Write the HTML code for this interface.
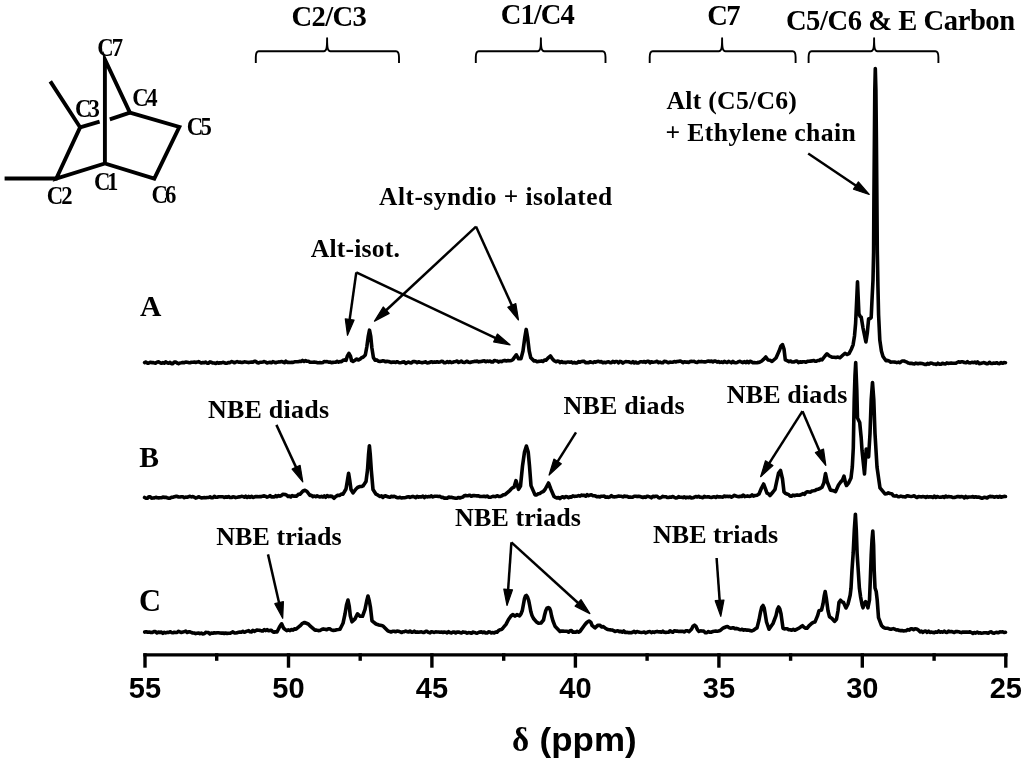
<!DOCTYPE html>
<html><head><meta charset="utf-8"><style>
html,body{margin:0;padding:0;background:#fff;width:1024px;height:765px;overflow:hidden}
svg{display:block;will-change:transform}
.t{font-family:"Liberation Serif",serif;font-weight:bold;fill:#000}
.ml{font-family:"Liberation Serif",serif;font-weight:bold;fill:#000;font-size:23px;letter-spacing:-3.5px}
.tick{font-family:"Liberation Sans",sans-serif;font-weight:bold;font-size:29px;fill:#000}
.xl{font-family:"Liberation Sans",sans-serif;font-weight:bold;font-size:34px;fill:#000}
</style></head><body>
<svg width="1024" height="765" viewBox="0 0 1024 765">
<polyline points="50.3,81.4 80.1,127.3 56.3,178.5 104.9,163.5 154.3,178.7 179.3,127.0 129.9,112.7 104.9,59.5 104.9,163.5" fill="none" stroke="#000" stroke-width="3.9" stroke-linejoin="miter" stroke-miterlimit="10" stroke-linecap="butt"/>
<polyline points="4.6,178.5 57.5,178.5" fill="none" stroke="#000" stroke-width="3.9" stroke-linejoin="miter" stroke-miterlimit="10" stroke-linecap="butt"/>
<polyline points="80.1,127.3 99.6,121.6" fill="none" stroke="#000" stroke-width="3.9" stroke-linejoin="miter" stroke-miterlimit="10" stroke-linecap="butt"/>
<polyline points="109.8,119.3 129.9,112.7" fill="none" stroke="#000" stroke-width="3.9" stroke-linejoin="miter" stroke-miterlimit="10" stroke-linecap="butt"/>
<path d="M255.8,63.0 L255.8,57.2 C255.8,54.2 256.6,51.2 258.8,51.2 L323.8,51.2 C326.3,51.2 327.1,49.2 327.1,38.2 C327.1,49.2 327.9,51.2 330.4,51.2 L396.0,51.2 C398.2,51.2 399.0,54.2 399.0,57.2 L399.0,63.0" fill="none" stroke="#000" stroke-width="1.9" stroke-linejoin="round"/>
<path d="M475.8,63.0 L475.8,57.2 C475.8,54.2 476.6,51.2 478.8,51.2 L537.6,51.2 C540.1,51.2 540.9,49.2 540.9,38.2 C540.9,49.2 541.7,51.2 544.2,51.2 L602.5,51.2 C604.7,51.2 605.5,54.2 605.5,57.2 L605.5,63.0" fill="none" stroke="#000" stroke-width="1.9" stroke-linejoin="round"/>
<path d="M649.7,63.0 L649.7,57.2 C649.7,54.2 650.5,51.2 652.7,51.2 L718.8,51.2 C721.3,51.2 722.1,49.2 722.1,38.2 C722.1,49.2 722.9,51.2 725.4,51.2 L792.6,51.2 C794.8,51.2 795.6,54.2 795.6,57.2 L795.6,63.0" fill="none" stroke="#000" stroke-width="1.9" stroke-linejoin="round"/>
<path d="M808.6,63.0 L808.6,57.2 C808.6,54.2 809.4,51.2 811.6,51.2 L870.8,51.2 C873.3,51.2 874.1,49.2 874.1,38.2 C874.1,49.2 874.9,51.2 877.4,51.2 L935.4,51.2 C937.6,51.2 938.4,54.2 938.4,57.2 L938.4,63.0" fill="none" stroke="#000" stroke-width="1.9" stroke-linejoin="round"/>
<text class="t" transform="translate(97.3 55.5) scale(0.9 1)" font-size="25.2" textLength="28.7" lengthAdjust="spacing">C7</text>
<text class="t" transform="translate(75.0 117.4) scale(0.9 1)" font-size="25.2" textLength="27.5" lengthAdjust="spacing">C3</text>
<text class="t" transform="translate(132.3 105.5) scale(0.9 1)" font-size="25.2" textLength="28.0" lengthAdjust="spacing">C4</text>
<text class="t" transform="translate(186.8 134.7) scale(0.9 1)" font-size="25.2" textLength="27.7" lengthAdjust="spacing">C5</text>
<text class="t" transform="translate(94.0 189.9) scale(0.9 1)" font-size="25.2" textLength="27.0" lengthAdjust="spacing">C1</text>
<text class="t" transform="translate(46.8 204.0) scale(0.9 1)" font-size="25.2" textLength="28.6" lengthAdjust="spacing">C2</text>
<text class="t" transform="translate(151.4 202.7) scale(0.9 1)" font-size="25.2" textLength="27.8" lengthAdjust="spacing">C6</text>
<text class="t" x="291.5" y="25.8" font-size="28.6" textLength="75.4" lengthAdjust="spacing">C2/C3</text>
<text class="t" x="500.7" y="24.2" font-size="28.6" textLength="74.2" lengthAdjust="spacing">C1/C4</text>
<text class="t" x="707.3" y="24.5" font-size="28.6" textLength="33.2" lengthAdjust="spacing">C7</text>
<text class="t" x="785.9" y="30.4" font-size="28.6" textLength="229.2" lengthAdjust="spacing">C5/C6 &amp; E Carbon</text>
<text class="t" x="666.5" y="109.4" font-size="25.7" textLength="130.4" lengthAdjust="spacing">Alt (C5/C6)</text>
<text class="t" x="665.5" y="141.4" font-size="25.7" textLength="190.2" lengthAdjust="spacing">+ Ethylene chain</text>
<text class="t" x="379.1" y="204.5" font-size="25.4" textLength="233.0" lengthAdjust="spacing">Alt-syndio + isolated</text>
<text class="t" x="310.7" y="256.6" font-size="25.7" textLength="89.2" lengthAdjust="spacing">Alt-isot.</text>
<text class="t" x="207.9" y="418.4" font-size="26.0" textLength="121.2" lengthAdjust="spacing">NBE diads</text>
<text class="t" x="563.5" y="413.9" font-size="26.0" textLength="121.0" lengthAdjust="spacing">NBE diads</text>
<text class="t" x="726.7" y="403.2" font-size="26.0" textLength="120.6" lengthAdjust="spacing">NBE diads</text>
<text class="t" x="216.3" y="544.7" font-size="26.0" textLength="125.4" lengthAdjust="spacing">NBE triads</text>
<text class="t" x="455.1" y="526.3" font-size="26.0" textLength="125.8" lengthAdjust="spacing">NBE triads</text>
<text class="t" x="653.1" y="542.8" font-size="26.0" textLength="124.9" lengthAdjust="spacing">NBE triads</text>
<text class="t" x="139.9" y="316.4" font-size="29.6">A</text>
<text class="t" x="139.3" y="466.6" font-size="29.6">B</text>
<text class="t" x="139.0" y="610.6" font-size="30.5">C</text>
<polyline points="144.6,362.6 146.0,362.0 147.4,363.2 148.8,363.1 150.2,362.2 151.6,362.6 153.0,362.6 154.4,362.9 155.8,363.2 157.2,362.0 158.6,361.9 160.0,362.7 161.4,363.3 162.9,362.6 164.3,363.2 165.7,361.9 167.1,362.7 168.6,363.2 170.0,362.4 171.4,363.6 172.9,363.6 174.3,362.1 175.7,362.1 177.1,363.0 178.6,363.7 180.0,363.0 181.4,362.8 182.9,362.4 184.3,362.7 185.7,362.0 187.1,362.3 188.6,362.6 190.0,362.7 191.4,362.2 192.9,362.2 194.3,362.1 195.7,362.5 197.1,362.1 198.6,361.6 200.0,362.4 201.4,363.0 202.9,362.5 204.3,362.7 205.7,362.0 207.1,363.3 208.6,363.1 210.0,361.9 211.4,362.3 212.9,363.0 214.3,363.0 215.7,363.4 217.1,362.5 218.6,363.2 220.0,362.7 221.4,362.9 222.9,362.3 224.3,362.7 225.7,363.2 227.1,363.1 228.6,362.5 230.0,362.6 231.4,361.6 232.9,361.9 234.3,362.8 235.7,362.1 237.1,361.6 238.6,362.2 240.0,362.1 241.4,362.5 242.9,362.4 244.3,361.9 245.7,362.0 247.1,362.2 248.6,362.6 250.0,362.2 251.4,362.0 252.9,362.1 254.3,361.4 255.7,361.4 257.1,362.5 258.6,363.0 260.0,362.2 261.4,362.3 262.9,362.0 264.3,361.6 265.7,362.1 267.1,362.9 268.6,362.6 270.0,362.2 271.4,362.7 272.9,361.6 274.3,362.1 275.7,362.8 277.1,362.2 278.6,361.9 280.0,362.0 281.5,361.6 282.9,362.0 284.4,362.7 285.8,361.1 287.3,362.4 288.7,362.4 290.2,362.5 291.6,362.3 293.1,362.4 294.5,361.8 296.0,361.8 297.7,361.8 299.3,361.4 301.0,361.4 302.5,360.4 304.1,361.5 305.6,360.6 307.1,361.3 308.5,361.2 310.0,362.2 311.4,362.3 312.9,362.3 314.3,362.1 315.7,362.2 317.1,362.6 318.6,362.8 320.0,362.6 321.4,362.7 322.9,362.4 324.3,361.5 325.7,361.8 327.1,361.6 328.6,362.2 330.0,362.0 331.4,362.6 332.9,362.4 334.3,362.3 335.7,362.3 337.1,361.3 338.6,362.2 340.0,361.6 341.5,361.6 343.0,360.3 344.5,359.9 346.0,360.4 347.3,356.2 348.9,353.4 350.5,356.2 351.6,360.7 353.0,361.4 355.0,360.2 356.7,359.0 358.3,360.0 360.0,359.2 361.5,357.8 363.0,357.3 365.3,355.0 366.8,347.0 368.3,336.0 369.5,330.2 370.7,336.0 371.9,348.0 373.4,357.5 375.0,360.2 376.7,359.9 378.3,361.2 380.0,361.4 381.4,361.2 382.9,360.8 384.3,361.1 385.7,361.8 387.1,361.3 388.6,361.5 390.0,362.0 391.4,362.5 392.9,362.1 394.3,362.0 395.7,362.4 397.1,361.7 398.6,362.4 400.0,362.7 401.4,362.5 402.9,362.1 404.3,361.9 405.7,363.3 407.1,362.6 408.6,362.0 410.0,362.7 411.4,363.0 412.9,361.6 414.3,361.6 415.7,361.8 417.1,362.7 418.6,361.8 420.0,362.3 421.4,362.6 422.9,362.6 424.3,362.3 425.7,361.7 427.1,363.0 428.6,362.7 430.0,362.2 431.4,361.7 432.9,362.4 434.3,361.9 435.7,362.2 437.1,361.7 438.6,362.2 440.0,362.0 441.4,361.2 442.9,361.6 444.3,362.8 445.7,362.6 447.1,361.6 448.6,362.5 450.0,361.6 451.4,362.6 452.9,362.3 454.3,361.7 455.7,361.4 457.1,361.0 458.6,362.5 460.0,361.8 461.4,361.0 462.9,362.3 464.3,362.5 465.7,361.9 467.1,361.2 468.6,362.3 470.0,362.5 471.4,362.0 472.9,361.7 474.3,361.4 475.7,361.4 477.1,361.1 478.6,361.9 480.0,361.6 481.4,361.5 482.9,361.0 484.3,360.8 485.7,361.8 487.1,361.1 488.6,361.4 490.0,361.1 491.4,362.0 492.9,362.0 494.3,360.5 495.7,360.8 497.1,361.0 498.6,362.1 500.0,361.2 501.6,361.6 503.2,360.7 504.8,360.4 506.4,361.0 508.0,360.6 509.7,360.8 511.3,360.5 513.0,359.4 516.3,354.8 518.6,358.8 521.0,358.6 523.0,351.0 524.8,337.5 526.2,329.4 527.6,337.5 529.2,351.0 530.8,357.8 534.0,360.9 535.5,360.7 537.0,361.7 538.5,361.4 540.0,361.2 541.5,360.9 543.0,361.5 544.5,360.0 546.0,360.2 548.5,357.6 550.5,356.0 552.5,359.0 554.2,360.8 556.0,361.8 557.4,361.1 558.8,361.3 560.2,362.6 561.6,361.5 563.0,362.5 564.4,362.3 565.8,362.7 567.2,362.0 568.6,362.0 570.0,362.3 571.4,361.9 572.9,362.9 574.3,362.4 575.7,363.0 577.1,362.9 578.6,361.6 580.0,362.3 581.4,361.5 582.9,361.4 584.3,361.4 585.7,362.8 587.1,362.6 588.6,362.7 590.0,361.8 591.4,362.3 592.9,362.6 594.3,361.8 595.7,362.2 597.1,361.6 598.6,361.3 600.0,362.0 601.4,361.6 602.9,362.7 604.3,362.2 605.7,362.8 607.1,362.0 608.6,361.7 610.0,362.6 611.4,362.7 612.9,361.3 614.3,362.4 615.7,361.5 617.1,361.5 618.6,362.8 620.0,361.4 621.4,361.8 622.9,363.1 624.3,362.1 625.7,361.6 627.1,361.7 628.6,361.8 630.0,362.3 631.4,362.7 632.9,361.6 634.3,363.0 635.7,362.0 637.1,363.0 638.6,362.9 640.0,361.8 641.4,361.8 642.9,362.1 644.3,361.5 645.7,362.4 647.1,361.3 648.6,361.3 650.0,362.9 651.4,361.7 652.9,362.2 654.3,362.0 655.7,361.7 657.1,361.3 658.6,362.7 660.0,362.0 661.4,362.8 662.9,362.8 664.3,361.3 665.7,361.5 667.1,362.1 668.6,362.8 670.0,362.0 671.4,362.2 672.9,362.2 674.3,361.5 675.7,362.0 677.1,361.5 678.6,361.4 680.0,361.1 681.4,361.5 682.9,362.7 684.3,361.7 685.7,362.1 687.1,362.0 688.6,362.5 690.0,361.6 691.4,361.4 692.9,361.5 694.3,361.4 695.7,362.3 697.1,362.4 698.6,361.4 700.0,361.7 701.4,361.4 702.9,361.8 704.3,361.9 705.7,361.9 707.1,361.3 708.6,361.0 710.0,361.4 711.4,361.1 712.9,361.9 714.3,361.1 715.7,361.1 717.1,362.1 718.6,361.5 720.0,362.4 721.4,361.9 722.9,362.5 724.3,361.4 725.7,362.0 727.1,362.5 728.6,361.3 730.0,362.0 731.4,362.8 732.9,361.4 734.3,362.5 735.7,362.8 737.1,362.5 738.6,361.7 740.0,361.3 741.4,362.0 742.9,362.7 744.3,361.6 745.7,362.7 747.1,361.4 748.6,362.7 750.0,361.2 751.4,361.7 752.9,362.7 754.3,362.5 755.7,362.7 757.1,362.6 758.6,362.4 760.0,362.0 761.8,361.0 763.5,359.4 765.8,357.0 768.0,360.0 770.0,360.2 772.0,361.5 776.0,358.0 779.0,351.3 781.0,346.0 782.5,344.6 784.0,349.0 785.3,359.9 787.1,360.6 789.0,361.6 790.6,361.0 792.1,362.0 793.7,362.0 795.3,361.3 796.9,361.0 798.4,362.6 800.0,361.8 801.5,362.3 803.0,361.8 804.5,361.7 806.0,362.2 807.5,361.4 809.0,361.3 810.5,361.1 812.0,360.9 813.5,360.5 815.0,361.2 816.4,361.2 817.8,360.5 819.2,360.5 820.6,359.4 822.0,359.9 825.0,356.0 827.0,353.8 829.5,356.0 832.0,357.2 834.0,357.2 836.0,357.6 838.0,357.1 840.0,357.8 843.0,355.0 845.0,353.3 847.0,354.5 849.0,353.7 851.2,349.5 853.1,344.8 854.5,336.0 855.6,323.5 856.7,300.0 857.5,281.8 858.3,300.0 858.9,313.7 860.2,316.5 861.2,317.0 863.0,328.0 865.9,342.0 867.3,333.0 868.6,319.0 870.0,318.5 871.2,317.5 872.0,300.0 873.0,280.0 873.6,252.0 873.9,200.0 874.4,140.0 874.8,90.0 875.3,68.5 875.9,90.0 876.4,140.0 876.9,200.0 877.3,250.0 877.9,285.0 878.6,315.0 879.8,340.0 881.4,351.0 883.0,356.5 886.0,360.7 887.5,360.4 889.0,360.9 890.5,362.2 892.0,362.0 893.6,362.0 895.2,362.1 896.8,362.6 898.4,362.1 900.0,362.7 902.0,361.0 904.0,361.0 905.5,361.6 907.0,362.2 908.5,363.1 910.0,363.4 911.5,363.3 912.9,363.8 914.4,363.9 915.9,363.1 917.4,363.6 918.8,363.6 920.3,363.2 921.8,363.5 923.2,363.8 924.7,364.4 926.2,364.5 927.6,363.4 929.1,364.1 930.6,363.1 932.1,363.2 933.5,364.0 935.0,364.0 936.5,364.5 937.9,363.2 939.4,364.1 940.9,364.2 942.4,363.2 943.8,363.7 945.3,363.9 946.8,362.9 948.2,363.4 949.7,363.3 951.2,363.0 952.6,363.3 954.1,363.3 955.6,363.3 957.1,362.5 958.5,361.8 960.0,362.2 961.5,361.8 962.9,361.8 964.4,362.5 965.9,362.8 967.4,361.7 968.8,362.8 970.3,362.9 971.8,362.3 973.2,362.6 974.7,362.1 976.2,363.1 977.6,362.0 979.1,363.6 980.6,363.4 982.1,363.1 983.5,362.6 985.0,363.0 986.5,363.7 987.9,363.7 989.4,362.3 990.9,363.4 992.3,363.5 993.8,363.1 995.2,363.2 996.7,362.7 998.2,363.5 999.6,363.6 1001.1,362.6 1002.6,363.3 1004.0,362.6 1005.5,362.7" fill="none" stroke="#000" stroke-width="3.6" stroke-linejoin="round" stroke-linecap="round"/>
<polyline points="144.6,497.5 146.0,498.3 147.4,498.3 148.8,496.8 150.2,496.9 151.6,498.2 153.0,498.0 154.4,497.9 155.8,497.3 157.2,497.8 158.6,497.9 160.0,497.7 161.4,497.8 162.9,497.0 164.3,497.4 165.7,497.3 167.1,497.8 168.6,498.2 170.0,498.1 171.4,497.4 172.9,497.2 174.3,496.8 175.7,496.4 177.1,496.3 178.6,497.0 180.0,497.0 181.4,496.7 182.9,496.8 184.3,497.7 185.7,497.1 187.1,497.2 188.6,496.7 190.0,496.3 191.4,496.9 192.9,496.6 194.3,497.2 195.7,498.1 197.1,497.6 198.6,496.7 200.0,497.3 201.4,497.9 202.9,497.7 204.3,497.6 205.7,497.8 207.1,497.5 208.6,497.5 210.0,496.8 211.4,497.8 212.9,497.7 214.3,496.3 215.7,497.3 217.1,497.2 218.6,496.7 220.0,496.7 221.4,496.8 222.9,496.7 224.3,497.5 225.7,496.8 227.1,497.3 228.6,496.5 230.0,497.5 231.4,497.5 232.9,496.8 234.3,497.0 235.7,497.6 237.1,497.3 238.6,496.9 240.0,496.9 241.4,496.4 242.9,496.5 244.3,497.2 245.7,496.2 247.1,497.5 248.6,496.3 250.0,497.4 251.4,496.3 252.9,497.4 254.3,497.0 255.7,496.6 257.1,496.6 258.6,496.8 260.0,496.5 261.4,496.6 262.9,496.1 264.3,495.9 265.7,496.4 267.1,497.1 268.6,496.6 270.0,495.6 271.4,496.9 272.9,496.7 274.3,497.0 275.7,495.7 277.1,496.7 278.6,495.5 280.0,496.2 281.5,495.5 283.0,494.2 285.2,494.5 286.6,495.1 288.0,496.5 289.4,496.0 290.8,497.0 292.2,495.6 293.6,496.2 295.0,496.1 296.7,496.1 298.3,494.4 300.0,494.2 303.0,491.0 305.0,490.3 307.0,491.5 310.0,495.5 311.4,495.2 312.9,496.6 314.3,496.0 315.7,496.7 317.1,495.8 318.6,496.6 320.0,497.0 321.4,496.3 322.9,497.0 324.3,495.9 325.7,497.3 327.1,495.6 328.6,496.6 330.0,496.1 332.0,496.4 334.0,498.3 336.0,496.3 338.0,495.2 339.7,495.4 341.3,494.0 343.0,494.2 346.0,489.0 347.5,480.0 348.6,473.2 349.7,480.0 351.0,489.5 353.0,492.9 356.0,489.0 358.0,487.2 360.0,486.5 361.5,486.5 363.0,485.9 366.0,481.4 367.5,470.0 368.5,455.0 369.4,445.7 370.3,455.0 371.3,470.0 373.0,489.5 376.0,494.2 378.0,495.2 380.0,496.5 381.4,495.8 382.9,497.4 384.3,496.1 385.7,495.9 387.1,496.5 388.6,497.0 390.0,497.3 391.4,496.3 392.9,496.7 394.3,496.3 395.7,497.0 397.1,497.6 398.6,497.7 400.0,497.3 401.4,498.0 402.9,497.7 404.3,497.8 405.7,497.5 407.1,497.1 408.6,496.7 410.0,497.4 411.4,496.8 412.9,496.4 414.3,496.9 415.7,497.6 417.1,496.3 418.6,497.1 420.0,496.7 421.4,496.9 422.9,496.2 424.3,497.6 425.7,496.4 427.1,496.9 428.6,496.6 430.0,496.7 431.4,495.9 432.9,496.9 434.3,496.3 435.7,496.2 437.1,496.2 438.6,496.5 440.0,496.4 441.4,497.4 442.9,497.3 444.3,498.1 445.7,498.1 447.1,498.3 448.6,497.0 450.0,497.5 451.4,497.2 452.9,497.8 454.3,498.0 455.7,498.3 457.1,498.2 458.6,497.5 460.0,498.0 461.4,497.4 462.8,497.1 464.2,495.8 465.6,495.4 467.0,495.7 468.4,495.6 469.9,495.2 471.3,496.3 472.8,495.6 474.2,495.5 475.7,495.7 477.1,495.9 478.6,495.9 480.0,496.5 481.4,496.5 482.9,496.4 484.3,496.2 485.7,496.7 487.1,496.0 488.6,497.2 490.0,497.3 491.4,496.9 492.9,496.4 494.3,496.5 495.7,496.6 497.1,495.7 498.6,496.4 500.0,496.5 501.7,495.9 503.3,494.8 505.0,494.7 510.0,490.3 512.0,488.1 514.0,487.2 516.0,480.6 518.5,489.3 520.5,486.0 522.5,466.0 524.5,452.0 526.4,446.0 528.2,452.0 529.5,466.0 531.0,485.6 535.0,494.9 536.7,494.9 538.3,493.7 540.0,493.4 541.7,492.1 543.3,491.5 545.0,489.5 548.5,483.0 551.0,489.5 554.0,496.5 555.5,497.4 557.0,498.0 558.4,497.5 559.9,498.6 561.3,497.4 562.8,496.7 564.2,497.7 565.7,496.6 567.1,496.8 568.6,497.6 570.0,496.9 571.4,497.1 572.9,495.8 574.3,496.4 575.7,496.2 577.1,496.2 578.6,495.6 580.0,496.2 581.4,495.1 582.9,495.4 584.3,495.4 585.7,496.2 587.1,494.6 588.6,495.7 590.0,495.1 591.4,494.8 592.9,495.7 594.3,495.7 595.7,496.1 597.1,496.8 598.6,496.5 600.0,496.9 601.4,496.2 602.9,496.2 604.3,496.1 605.7,497.3 607.1,496.9 608.6,497.4 610.0,496.9 611.4,495.7 612.9,496.8 614.3,496.9 615.7,496.8 617.1,496.4 618.6,496.1 620.0,496.3 621.4,496.3 622.9,496.9 624.3,496.0 625.7,496.5 627.1,496.4 628.6,497.2 630.0,497.0 631.4,497.3 632.9,497.1 634.3,496.2 635.7,496.2 637.1,496.6 638.6,496.3 640.0,496.6 641.4,497.0 642.9,497.5 644.3,496.9 645.7,497.4 647.1,496.2 648.6,496.6 650.0,496.9 651.4,497.8 652.9,496.3 654.3,496.8 655.7,496.2 657.1,496.3 658.6,497.7 660.0,497.9 661.4,497.3 662.9,496.4 664.3,496.7 665.7,496.7 667.1,497.4 668.6,497.5 670.0,497.1 671.4,497.2 672.9,496.5 674.3,497.3 675.7,498.0 677.1,497.7 678.6,496.6 680.0,497.3 681.4,497.3 682.9,497.6 684.3,496.8 685.7,497.9 687.1,497.2 688.6,497.6 690.0,497.0 691.4,498.0 692.9,497.7 694.3,497.3 695.7,496.5 697.1,497.0 698.6,496.3 700.0,497.1 701.4,497.2 702.9,497.7 704.3,496.4 705.7,497.0 707.1,496.9 708.6,496.7 710.0,497.2 711.4,497.5 712.9,497.1 714.3,496.7 715.7,497.5 717.1,496.4 718.6,497.0 720.0,496.8 721.4,497.0 722.9,497.1 724.3,496.0 725.7,496.6 727.1,496.2 728.6,496.6 730.0,496.3 731.5,497.1 732.9,496.4 734.4,495.3 735.9,496.1 737.4,496.4 738.8,496.7 740.3,496.2 741.8,496.5 743.2,495.1 744.7,496.6 746.2,496.2 747.6,495.9 749.1,496.4 750.6,496.3 752.1,494.9 753.5,496.1 755.0,495.5 757.0,495.2 759.0,494.0 761.5,488.0 763.6,484.0 765.5,489.0 767.0,493.2 768.5,493.8 770.0,495.5 773.0,492.0 775.0,489.4 777.0,480.0 778.6,473.0 780.5,470.5 782.5,479.0 784.0,492.0 785.5,493.4 787.0,494.1 788.5,494.4 790.0,495.9 791.4,496.3 792.9,495.1 794.3,495.7 795.7,495.3 797.1,494.9 798.6,495.3 800.0,495.1 801.5,494.5 803.0,493.6 804.5,494.4 806.0,492.3 807.5,491.7 809.0,492.0 810.5,492.1 812.0,491.0 813.5,490.8 815.0,490.5 816.5,489.6 818.0,489.2 820.0,488.5 822.0,487.2 823.8,483.0 825.5,473.5 827.3,482.0 830.5,490.2 832.2,490.4 833.8,490.8 835.5,491.7 838.5,485.0 840.5,482.3 842.5,480.0 844.0,476.2 845.5,483.0 846.5,485.5 848.5,483.1 851.0,478.0 852.3,467.0 853.3,448.0 854.2,400.0 855.0,375.0 855.7,362.5 856.8,390.0 857.5,418.0 859.7,422.5 861.2,438.0 862.0,450.3 864.5,474.0 866.2,449.0 867.5,452.0 868.6,457.0 870.0,433.6 871.2,400.0 872.5,382.5 873.8,400.0 875.0,433.6 877.0,467.0 880.0,487.9 885.0,493.9 886.7,493.8 888.3,492.8 890.0,493.5 891.7,493.7 893.3,495.7 895.0,496.1 896.5,495.6 897.9,496.6 899.4,496.7 900.9,496.1 902.4,496.6 903.8,496.8 905.3,497.0 906.8,495.8 908.2,495.9 909.7,496.3 911.2,496.5 912.6,496.2 914.1,495.8 915.6,496.8 917.1,497.5 918.5,496.5 920.0,496.8 921.4,496.9 922.9,496.6 924.3,496.7 925.7,497.4 927.1,496.5 928.6,497.1 930.0,496.8 931.4,496.9 932.9,497.5 934.3,496.1 935.7,497.4 937.1,496.5 938.6,497.0 940.0,497.3 941.4,497.1 942.9,496.6 944.3,497.4 945.7,496.1 947.1,497.0 948.6,496.6 950.0,496.8 951.4,496.9 952.9,497.5 954.3,497.4 955.7,497.2 957.1,496.6 958.6,496.5 960.0,497.0 961.4,496.6 962.9,496.7 964.3,497.9 965.7,496.5 967.1,497.7 968.6,497.0 970.0,497.0 971.4,497.0 972.9,496.6 974.3,497.3 975.7,496.8 977.1,497.3 978.6,497.1 980.0,497.5 981.4,498.1 982.8,498.1 984.2,497.2 985.7,497.5 987.1,498.0 988.5,496.9 989.9,496.4 991.3,496.6 992.8,496.5 994.2,497.2 995.6,496.7 997.0,496.6 998.4,497.3 999.8,496.3 1001.2,497.2 1002.7,496.8 1004.1,496.4 1005.5,496.5" fill="none" stroke="#000" stroke-width="3.6" stroke-linejoin="round" stroke-linecap="round"/>
<polyline points="144.7,632.1 146.2,631.7 147.8,632.3 149.3,632.0 150.8,632.4 152.3,632.5 153.9,631.6 155.4,631.6 156.9,633.0 158.5,632.1 160.0,632.5 161.4,632.0 162.9,633.3 164.3,632.3 165.7,632.9 167.1,632.3 168.6,632.5 170.0,631.7 171.4,632.4 172.9,632.8 174.3,632.2 175.7,632.5 177.1,632.4 178.6,631.3 180.0,632.0 181.4,632.4 182.9,632.1 184.3,631.6 185.7,631.1 187.1,632.5 188.6,631.8 190.0,631.8 191.4,632.5 192.8,633.0 194.2,633.0 195.6,633.6 197.0,633.2 198.4,633.0 199.9,633.7 201.3,633.1 202.8,633.9 204.2,633.8 205.6,632.4 207.1,632.5 208.5,632.6 209.9,633.9 211.4,633.0 212.8,633.3 214.2,632.7 215.7,633.0 217.1,632.8 218.6,632.8 220.0,633.0 221.4,633.1 222.9,633.0 224.3,633.5 225.7,633.0 227.1,633.4 228.6,633.2 230.0,633.3 231.4,632.7 232.9,631.8 234.3,632.9 235.7,633.0 237.1,632.8 238.6,632.2 240.0,632.0 241.4,632.2 242.9,631.3 244.3,632.2 245.7,631.7 247.1,631.1 248.6,630.6 250.0,631.8 251.4,631.9 252.9,630.3 254.3,631.4 255.7,630.6 257.1,630.0 258.6,630.2 260.0,630.4 261.4,630.9 262.9,631.0 264.3,629.6 265.7,630.6 267.1,629.6 268.6,630.8 270.0,630.4 271.4,630.4 272.8,631.7 274.2,632.2 275.6,631.7 277.0,632.0 279.5,627.0 281.6,623.8 283.5,628.1 285.0,629.4 286.7,630.6 288.3,629.9 290.0,630.6 291.5,629.5 293.0,630.1 294.5,628.8 296.0,629.2 300.0,625.9 302.5,623.3 304.5,622.5 307.0,623.5 308.5,624.2 310.0,625.9 315.0,630.2 316.7,630.1 318.3,630.6 320.0,630.5 321.7,629.5 323.3,628.9 325.0,629.2 326.7,629.7 328.3,628.7 330.0,628.9 331.7,630.1 333.3,630.4 335.0,630.2 336.7,629.7 338.3,629.5 340.0,629.2 343.0,623.3 345.0,614.0 346.5,605.0 348.0,600.0 349.2,606.0 350.3,615.7 352.0,621.8 355.0,618.9 357.5,613.8 360.0,616.3 362.5,616.3 365.0,609.4 366.7,601.0 368.0,596.0 369.3,601.0 370.4,607.0 372.0,620.8 376.0,624.0 377.4,624.4 378.8,625.0 380.2,625.3 381.6,625.6 383.0,625.9 388.0,631.1 389.5,631.4 391.0,632.0 392.5,631.3 394.0,631.3 395.5,631.8 397.0,631.1 398.5,631.3 400.0,631.7 401.4,632.5 402.9,631.8 404.3,631.8 405.7,631.0 407.1,631.7 408.6,632.0 410.0,631.0 411.4,632.1 412.9,632.1 414.3,631.2 415.7,632.2 417.1,631.9 418.6,632.3 420.0,632.0 421.4,631.8 422.9,632.4 424.3,632.5 425.7,631.3 427.1,631.4 428.6,632.4 430.0,632.9 431.4,631.7 432.9,632.1 434.3,632.4 435.7,631.9 437.1,632.0 438.6,632.0 440.0,632.3 441.4,632.1 442.9,632.5 444.3,632.0 445.7,632.2 447.1,632.9 448.6,631.6 450.0,632.6 451.4,632.9 452.9,632.1 454.3,632.0 455.7,633.0 457.1,632.1 458.6,632.0 460.0,632.5 461.4,632.9 462.9,631.9 464.3,632.3 465.7,632.4 467.1,633.2 468.6,632.6 470.0,632.7 471.4,633.3 472.8,632.1 474.3,632.4 475.7,632.9 477.1,633.2 478.5,632.5 479.9,632.1 481.4,631.9 482.8,632.6 484.2,632.0 485.6,633.0 487.1,633.0 488.5,631.9 489.9,632.0 491.3,632.9 492.7,632.6 494.2,632.9 495.6,632.1 497.0,632.3 498.5,630.6 500.0,629.7 501.5,629.5 503.0,627.9 506.0,624.4 508.5,619.5 511.0,616.0 513.0,614.5 515.0,616.2 517.0,614.5 519.5,615.8 521.0,613.8 522.3,610.5 523.5,604.0 524.5,598.6 525.5,596.0 526.4,595.4 527.5,597.0 528.7,600.5 529.8,606.0 530.8,611.5 532.0,615.5 533.5,618.5 536.2,621.7 538.5,623.3 541.0,623.0 543.5,620.0 544.6,615.0 545.8,610.5 547.0,608.2 548.3,607.6 549.6,608.4 550.6,611.0 551.6,616.0 553.0,621.0 555.0,626.2 560.0,631.4 561.4,631.0 562.9,631.1 564.3,631.3 565.7,631.3 567.1,631.2 568.6,632.1 570.0,630.8 571.4,630.6 572.9,632.2 574.3,632.0 575.7,632.2 577.1,631.3 578.6,632.2 580.0,631.4 585.0,624.5 587.0,622.2 589.0,621.0 591.0,622.5 592.0,625.4 595.0,627.9 598.0,625.2 600.0,625.4 601.7,627.0 603.3,626.6 605.0,627.9 606.4,628.8 607.9,629.5 609.3,629.7 610.7,629.9 612.1,630.0 613.6,630.6 615.0,631.4 616.5,631.0 617.9,630.8 619.4,631.7 620.9,631.2 622.4,632.2 623.8,630.9 625.3,632.5 626.8,632.2 628.2,632.6 629.7,632.6 631.2,632.7 632.6,632.2 634.1,631.3 635.6,632.6 637.1,631.6 638.5,631.9 640.0,632.3 641.4,632.5 642.9,632.3 644.3,632.0 645.7,632.9 647.1,632.3 648.6,631.8 650.0,631.6 651.4,632.6 652.9,631.9 654.3,632.4 655.7,631.7 657.1,631.4 658.6,631.9 660.0,631.8 661.4,632.3 662.9,631.2 664.3,632.2 665.7,632.4 667.1,632.2 668.6,632.2 670.0,630.8 671.4,631.8 672.9,632.2 674.3,630.7 675.7,631.1 677.1,631.1 678.6,631.5 680.0,631.4 681.5,631.3 683.0,631.4 684.5,632.0 686.0,630.7 687.5,630.8 689.0,631.6 691.5,629.3 693.0,626.2 694.5,625.2 696.0,626.4 697.5,629.8 699.0,631.4 700.6,630.9 702.1,631.0 703.7,631.1 705.3,632.7 706.9,632.6 708.4,631.5 710.0,632.3 711.4,632.1 712.9,631.5 714.3,631.3 715.7,631.1 717.1,631.3 718.6,631.0 720.0,630.6 721.5,629.4 723.0,628.2 724.5,627.5 726.0,626.8 727.5,626.5 729.0,627.6 730.5,628.2 732.0,627.9 733.5,627.8 735.0,628.8 736.4,628.4 737.9,628.8 739.3,629.4 740.7,629.8 742.1,629.2 743.6,630.1 745.0,629.7 746.4,630.1 747.8,630.1 749.2,630.2 750.6,630.7 752.0,630.9 753.7,630.2 755.3,628.8 757.0,627.9 759.0,620.0 760.5,612.2 761.8,607.0 763.0,605.5 764.2,608.0 765.2,614.0 766.5,622.0 769.0,629.2 773.0,623.5 776.0,615.7 777.5,609.0 778.6,607.0 779.8,609.0 781.0,613.7 783.0,628.3 784.4,628.9 785.8,628.8 787.2,628.8 788.6,629.6 790.0,629.8 791.7,630.3 793.3,629.4 795.0,630.3 797.0,629.1 799.0,628.2 800.8,626.8 802.5,625.7 804.0,627.2 805.5,628.1 807.0,628.2 809.5,625.3 812.0,623.1 813.5,622.3 815.0,621.9 817.5,615.9 819.0,610.8 821.5,610.0 823.0,604.0 824.2,596.0 825.2,591.5 826.3,598.0 828.0,610.8 829.5,616.8 832.0,618.5 834.5,621.4 836.5,619.3 838.0,610.8 839.0,602.3 840.5,600.2 842.0,601.9 843.5,602.5 846.0,608.0 848.0,604.0 849.0,600.0 850.2,595.0 851.0,588.3 852.0,570.0 853.2,553.0 854.3,530.0 855.4,514.2 856.3,530.0 857.1,553.0 858.2,570.0 859.4,588.3 860.6,597.0 862.1,605.0 863.0,607.8 864.5,603.0 865.6,601.6 866.8,604.0 867.9,607.8 869.5,600.0 870.3,580.0 871.2,555.0 872.0,540.0 872.8,531.0 873.6,545.0 874.2,570.0 875.0,588.0 876.2,591.5 877.2,600.0 878.5,617.6 881.5,625.5 883.0,627.1 884.5,627.9 886.0,628.3 888.0,628.3 890.0,629.2 891.7,629.1 893.3,628.6 895.0,629.2 896.4,630.0 897.9,629.9 899.3,630.5 900.7,630.6 902.1,630.6 903.6,631.0 905.0,630.8 906.4,630.6 907.9,629.6 909.3,630.1 910.7,628.8 912.1,628.8 913.6,629.6 915.0,628.8 916.7,629.0 918.3,630.1 920.0,631.8 921.4,631.1 922.9,632.4 924.3,631.3 925.7,631.0 927.1,632.4 928.6,631.2 930.0,632.4 931.4,632.1 932.9,632.4 934.3,632.6 935.7,631.9 937.1,632.3 938.6,631.0 940.0,632.3 941.4,631.8 942.9,632.2 944.3,631.1 945.7,632.2 947.1,632.5 948.6,631.1 950.0,631.8 951.4,631.5 952.9,632.0 954.3,632.5 955.7,631.6 957.1,631.5 958.6,631.7 960.0,632.3 961.4,632.6 962.9,632.0 964.3,632.1 965.7,632.1 967.1,632.1 968.6,632.3 970.0,631.8 971.4,632.5 972.9,633.4 974.3,632.5 975.7,633.1 977.1,632.1 978.6,633.1 980.0,632.8 981.4,633.2 982.8,633.0 984.2,632.7 985.7,632.7 987.1,632.9 988.5,633.3 989.9,632.0 991.3,631.9 992.8,633.0 994.2,633.2 995.6,632.5 997.0,632.4 998.4,632.8 999.8,631.9 1001.2,632.0 1002.7,631.8 1004.1,632.5 1005.5,632.3" fill="none" stroke="#000" stroke-width="3.6" stroke-linejoin="round" stroke-linecap="round"/>
<line x1="808.2" y1="153.5" x2="857.6" y2="186.7" stroke="#000" stroke-width="2.5"/><polygon points="869.2,194.5 853.5,189.2 858.4,181.9" fill="#000" stroke="#000" stroke-width="1.2" stroke-linejoin="round"/>
<line x1="476.0" y1="226.6" x2="384.8" y2="311.5" stroke="#000" stroke-width="2.5"/><polygon points="374.5,321.1 383.2,307.0 389.2,313.4" fill="#000" stroke="#000" stroke-width="1.2" stroke-linejoin="round"/>
<line x1="476.0" y1="226.6" x2="512.7" y2="307.2" stroke="#000" stroke-width="2.5"/><polygon points="518.5,320.0 507.8,307.2 515.8,303.6" fill="#000" stroke="#000" stroke-width="1.2" stroke-linejoin="round"/>
<line x1="356.3" y1="272.3" x2="349.4" y2="321.4" stroke="#000" stroke-width="2.5"/><polygon points="347.5,335.3 345.3,318.9 354.1,320.1" fill="#000" stroke="#000" stroke-width="1.2" stroke-linejoin="round"/>
<line x1="356.3" y1="272.3" x2="497.3" y2="338.9" stroke="#000" stroke-width="2.5"/><polygon points="510.0,344.8 493.6,342.0 497.4,334.0" fill="#000" stroke="#000" stroke-width="1.2" stroke-linejoin="round"/>
<line x1="276.4" y1="424.9" x2="296.9" y2="469.1" stroke="#000" stroke-width="2.5"/><polygon points="302.8,481.8 292.1,469.1 300.1,465.4" fill="#000" stroke="#000" stroke-width="1.2" stroke-linejoin="round"/>
<line x1="576.0" y1="432.4" x2="556.6" y2="463.2" stroke="#000" stroke-width="2.5"/><polygon points="549.1,475.0 553.9,459.1 561.3,463.8" fill="#000" stroke="#000" stroke-width="1.2" stroke-linejoin="round"/>
<line x1="802.5" y1="411.2" x2="768.2" y2="464.9" stroke="#000" stroke-width="2.5"/><polygon points="760.6,476.7 765.5,460.8 772.9,465.6" fill="#000" stroke="#000" stroke-width="1.2" stroke-linejoin="round"/>
<line x1="802.5" y1="411.2" x2="820.2" y2="452.6" stroke="#000" stroke-width="2.5"/><polygon points="825.8,465.4 815.4,452.5 823.5,449.0" fill="#000" stroke="#000" stroke-width="1.2" stroke-linejoin="round"/>
<line x1="268.0" y1="554.4" x2="279.5" y2="604.7" stroke="#000" stroke-width="2.5"/><polygon points="282.7,618.3 274.8,603.7 283.4,601.7" fill="#000" stroke="#000" stroke-width="1.2" stroke-linejoin="round"/>
<line x1="511.4" y1="542.4" x2="508.0" y2="591.5" stroke="#000" stroke-width="2.5"/><polygon points="507.0,605.5 503.8,589.2 512.5,589.8" fill="#000" stroke="#000" stroke-width="1.2" stroke-linejoin="round"/>
<line x1="511.4" y1="542.4" x2="579.5" y2="604.2" stroke="#000" stroke-width="2.5"/><polygon points="589.9,613.6 575.1,606.1 581.0,599.6" fill="#000" stroke="#000" stroke-width="1.2" stroke-linejoin="round"/>
<line x1="716.6" y1="558.0" x2="719.8" y2="602.3" stroke="#000" stroke-width="2.5"/><polygon points="720.8,616.3 715.2,600.7 724.0,600.0" fill="#000" stroke="#000" stroke-width="1.2" stroke-linejoin="round"/>
<line x1="143.3" y1="654.8" x2="1007.6" y2="654.8" stroke="#000" stroke-width="3.2"/>
<line x1="145.0" y1="653.2" x2="145.0" y2="667.7" stroke="#000" stroke-width="3.4"/>
<text x="145.0" y="698.1" text-anchor="middle" class="tick">55</text>
<line x1="216.7" y1="653.2" x2="216.7" y2="660.8" stroke="#000" stroke-width="3.4"/>
<line x1="288.5" y1="653.2" x2="288.5" y2="667.7" stroke="#000" stroke-width="3.4"/>
<text x="288.5" y="698.1" text-anchor="middle" class="tick">50</text>
<line x1="360.2" y1="653.2" x2="360.2" y2="660.8" stroke="#000" stroke-width="3.4"/>
<line x1="431.9" y1="653.2" x2="431.9" y2="667.7" stroke="#000" stroke-width="3.4"/>
<text x="431.9" y="698.1" text-anchor="middle" class="tick">45</text>
<line x1="503.7" y1="653.2" x2="503.7" y2="660.8" stroke="#000" stroke-width="3.4"/>
<line x1="575.4" y1="653.2" x2="575.4" y2="667.7" stroke="#000" stroke-width="3.4"/>
<text x="575.4" y="698.1" text-anchor="middle" class="tick">40</text>
<line x1="647.1" y1="653.2" x2="647.1" y2="660.8" stroke="#000" stroke-width="3.4"/>
<line x1="718.9" y1="653.2" x2="718.9" y2="667.7" stroke="#000" stroke-width="3.4"/>
<text x="718.9" y="698.1" text-anchor="middle" class="tick">35</text>
<line x1="790.6" y1="653.2" x2="790.6" y2="660.8" stroke="#000" stroke-width="3.4"/>
<line x1="862.3" y1="653.2" x2="862.3" y2="667.7" stroke="#000" stroke-width="3.4"/>
<text x="862.3" y="698.1" text-anchor="middle" class="tick">30</text>
<line x1="934.1" y1="653.2" x2="934.1" y2="660.8" stroke="#000" stroke-width="3.4"/>
<line x1="1005.8" y1="653.2" x2="1005.8" y2="667.7" stroke="#000" stroke-width="3.4"/>
<text x="1005.8" y="698.1" text-anchor="middle" class="tick">25</text>
<text x="512.1" y="750.9" font-family="Liberation Serif" font-weight="bold" font-size="33">δ</text>
<text class="xl" x="539.6" y="750.6" font-size="33" textLength="97" lengthAdjust="spacingAndGlyphs">(ppm)</text>
</svg></body></html>
